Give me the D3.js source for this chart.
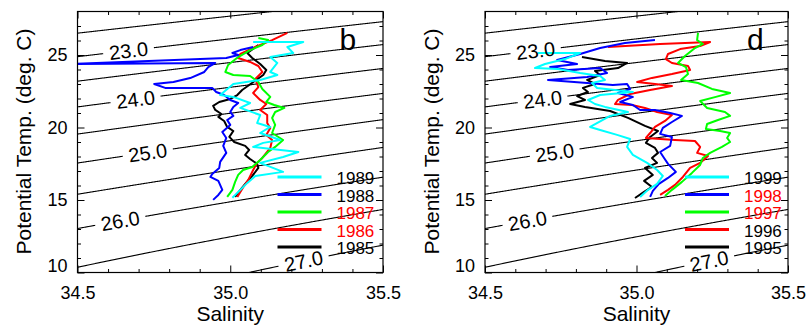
<!DOCTYPE html>
<html><head><meta charset="utf-8">
<script src="https://cdn.jsdelivr.net/npm/d3@7"></script>
<style>body{margin:0;background:#fff}svg{display:block}text{font-family:"Liberation Sans",Arial,Helvetica,sans-serif}</style>
</head><body><svg id="c" width="811" height="326"></svg>
<script>
// ---- axes / contour data ----
const salinityTicks = [34.5, 35.0, 35.5];
const salinityMinor = [34.6, 34.7, 34.8, 34.9, 35.1, 35.2, 35.3, 35.4];
const tempTicks = [10, 15, 20, 25];
const tempMinor = [11, 12, 13, 14, 16, 17, 18, 19, 21, 22, 23, 24, 26, 27];
const sigmaLevels = [22.0, 22.5, 23.0, 23.5, 24.0, 24.5, 25.0, 25.5, 26.0, 26.5, 27.0, 27.5];
const labeledLevels = [23.0, 24.0, 25.0, 26.0, 27.0];
const labelSalinity = [34.667, 34.69, 34.73, 34.64, 35.24];

// ---- panel b (1985-1989): [salinity, potential temperature] ----
const y1985 = [[35.092,25.69],[35.056,25.14],[35.072,24.79],[35.098,24.38],[35.118,23.97],[35.108,23.62],[35.085,23.28],[35.062,22.93],[35.039,22.59],[35.023,22.24],[35.000,21.97],[34.964,21.76],[34.944,21.49],[34.951,21.21],[34.971,20.93],[34.961,20.73],[34.980,20.45],[34.990,20.04],[35.010,19.76],[34.997,19.35],[35.013,19.00],[35.049,18.73],[35.062,18.45],[35.049,18.11],[35.065,17.83],[35.088,17.49],[35.092,17.21],[35.072,16.66],[35.049,16.11],[35.033,15.70],[35.016,15.21]];
const y1986 = [[35.187,26.52],[35.137,26.03],[35.082,25.55],[35.033,25.07],[35.026,24.79],[35.065,24.52],[35.092,24.24],[35.105,23.83],[35.082,23.35],[35.092,22.79],[35.075,22.38],[35.098,21.90],[35.118,21.62],[35.098,21.21],[35.121,20.86],[35.121,20.31],[35.131,19.97],[35.118,19.49],[35.137,19.14],[35.131,18.59],[35.118,18.25],[35.105,17.90],[35.088,17.56],[35.075,17.07],[35.059,16.39],[35.043,15.90],[35.023,15.21]];
const y1987 = [[35.092,26.17],[35.124,26.03],[35.105,25.69],[35.065,25.34],[35.026,24.86],[34.993,24.31],[34.984,23.83],[35.010,23.62],[35.065,23.55],[35.092,23.14],[35.105,22.66],[35.131,22.11],[35.118,21.76],[35.144,21.55],[35.177,21.35],[35.147,21.07],[35.137,20.66],[35.147,20.18],[35.137,19.62],[35.173,19.14],[35.147,18.66],[35.124,18.31],[35.098,17.76],[35.072,17.28],[35.042,17.07],[35.026,16.73],[35.016,16.25],[35.007,15.70],[34.990,15.21]];
const y1988 = [[35.075,25.55],[35.033,25.34],[35.007,25.14],[35.026,25.00],[34.987,24.79],[34.483,24.38],[34.951,24.45],[34.928,24.17],[34.915,23.83],[34.869,23.41],[34.814,23.14],[34.751,23.00],[34.787,22.73],[34.941,22.73],[34.954,22.45],[34.980,22.24],[35.000,21.90],[35.026,21.69],[35.010,21.42],[35.000,21.07],[35.010,20.80],[34.990,20.52],[35.000,20.18],[34.974,19.69],[34.987,19.28],[34.977,18.73],[34.987,18.25],[34.967,17.63],[34.964,17.21],[34.941,16.80],[34.935,16.59],[34.961,16.32],[34.974,15.70],[34.961,15.35],[34.944,15.01]];
const y1989 = [[35.075,25.90],[35.239,25.90],[35.187,25.55],[35.206,25.14],[35.131,24.86],[35.154,24.45],[35.131,23.83],[35.154,23.62],[35.098,23.28],[35.010,23.00],[34.967,22.24],[35.010,22.11],[35.065,21.69],[35.033,21.35],[35.098,20.86],[35.088,20.31],[35.131,20.04],[35.098,19.62],[35.164,19.14],[35.108,18.94],[35.075,18.66],[35.223,18.31],[35.173,17.97],[35.098,17.56],[35.173,16.94],[35.082,16.66],[35.056,16.18],[35.033,15.70],[35.007,15.15]];

// ---- panel d (1995-1999) ----
const y1995 = [[34.820,24.86],[34.896,24.59],[34.969,24.45],[34.939,24.10],[34.863,23.90],[34.880,23.62],[34.837,23.28],[34.863,23.00],[34.823,22.73],[34.840,22.45],[34.804,22.17],[34.830,21.90],[34.781,21.62],[34.830,21.42],[34.913,21.14],[34.972,20.66],[35.028,20.11],[35.071,19.76],[35.045,19.35],[35.031,18.94],[35.061,18.59],[35.071,18.25],[35.051,17.90],[35.068,17.56],[35.028,17.21],[35.054,16.73],[35.025,16.32],[35.051,15.90],[35.025,15.56],[34.995,15.14]];
const y1996 = [[34.906,25.55],[35.078,25.76],[35.243,25.90],[35.210,25.62],[35.144,25.41],[35.104,25.07],[35.097,24.72],[35.117,24.45],[35.170,24.24],[35.177,23.97],[35.117,23.69],[35.051,23.42],[35.002,23.14],[35.061,23.00],[35.117,22.86],[35.045,22.59],[34.979,22.31],[34.939,21.90],[34.929,21.62],[34.985,21.55],[35.028,21.35],[35.068,21.07],[35.117,20.86],[35.094,20.45],[35.061,20.04],[35.045,19.62],[35.031,19.28],[35.127,19.14],[35.193,19.07],[35.210,18.66],[35.200,18.25],[35.236,18.04],[35.210,17.56],[35.177,17.21],[35.153,16.59],[35.127,16.04],[35.104,15.70],[35.078,15.35]];
const y1997 = [[35.203,26.52],[35.200,26.03],[35.219,25.76],[35.193,25.48],[35.160,24.93],[35.137,24.45],[35.163,24.17],[35.170,23.69],[35.147,23.28],[35.203,23.07],[35.249,22.66],[35.309,22.38],[35.262,22.11],[35.210,21.83],[35.233,21.35],[35.292,21.07],[35.309,20.80],[35.269,20.52],[35.233,20.24],[35.229,19.90],[35.276,19.76],[35.309,19.62],[35.299,19.28],[35.309,19.00],[35.282,18.66],[35.243,18.25],[35.219,17.90],[35.210,17.42],[35.183,16.87],[35.150,16.25],[35.117,15.70],[35.094,15.28]];
const y1998 = [[35.061,26.03],[34.962,25.83],[34.880,25.48],[34.814,25.07],[34.738,24.66],[34.804,24.38],[34.715,24.17],[34.774,23.97],[34.880,24.10],[34.903,23.76],[34.837,23.48],[34.708,23.28],[34.837,23.07],[34.922,22.93],[34.969,23.00],[34.979,22.66],[34.939,22.38],[34.988,22.11],[34.946,21.76],[34.988,21.55],[35.012,21.21],[35.061,21.21],[35.111,21.00],[35.150,20.80],[35.117,20.38],[35.087,19.97],[35.078,19.56],[35.117,19.35],[35.111,18.73],[35.078,18.31],[35.091,17.90],[35.104,17.49],[35.130,16.94],[35.104,16.52],[35.074,16.11],[35.054,15.63],[35.045,15.21]];
const y1999 = [[34.675,25.14],[34.814,25.14],[34.764,24.72],[34.698,24.38],[34.665,24.10],[34.741,24.04],[34.814,23.76],[34.880,23.55],[34.896,23.28],[34.853,23.07],[34.870,22.73],[34.988,22.45],[34.880,22.24],[34.840,21.90],[34.863,21.62],[34.896,21.42],[34.972,21.07],[34.913,20.80],[34.847,20.04],[34.880,19.83],[34.936,19.49],[34.979,19.21],[34.969,18.66],[34.988,18.11],[35.035,17.56],[35.068,17.07],[35.087,16.66],[35.068,16.11],[35.038,15.70],[35.012,15.21]];

// legend order (top to bottom)
const legendYearsB = ["1989", "1988", "1987", "1986", "1985"];
const legendYearsD = ["1999", "1998", "1997", "1996", "1995"];
const lineColors = ["#00ffff", "#0000ff", "#00ff00", "#ff0000", "#000000"];
const textColorsB = ["#000000", "#000000", "#ff0000", "#ff0000", "#000000"];
const textColorsD = ["#000000", "#ff0000", "#ff0000", "#000000", "#000000"];
const seriesB = [y1989, y1988, y1987, y1986, y1985];
const seriesD = [y1999, y1998, y1997, y1996, y1995];

// UNESCO EOS-80 one-atmosphere density anomaly
function sigma0(S, T) {
  const rw = 999.842594 + 6.793952e-2*T - 9.095290e-3*T*T + 1.001685e-4*T**3 - 1.120083e-6*T**4 + 6.536332e-9*T**5;
  const A = 8.24493e-1 - 4.0899e-3*T + 7.6438e-5*T*T - 8.2467e-7*T**3 + 5.3875e-9*T**4;
  const B = -5.72466e-3 + 1.0227e-4*T - 1.6546e-6*T*T;
  const C = 4.8314e-4;
  return rw + A*S + B*Math.pow(S, 1.5) + C*S*S - 1000;
}
function tempAt(S, sig) {
  let lo = 4, hi = 40;
  for (let i = 0; i < 60; i++) {
    const m = (lo + hi) / 2;
    if (sigma0(S, m) > sig) lo = m; else hi = m;
  }
  return (lo + hi) / 2;
}

const svg = d3.select("#c");
svg.append("rect").attr("width", 811).attr("height", 326).attr("fill", "#fff");

function panel(id, x0, w, series, years, tColors, letter) {
  const top = 11.5, bot = 272.5;
  const x = d3.scaleLinear().domain([34.5, 35.5]).range([x0, x0 + w]);
  const y = d3.scaleLinear().domain([10, 28]).range([bot, top]);
  const g = svg.append("g");
  svg.append("clipPath").attr("id", "clip" + id).append("rect")
    .attr("x", x0).attr("y", top).attr("width", w).attr("height", bot - top);
  const inner = g.append("g").attr("clip-path", `url(#clip${id})`);

  // isopycnals
  const line = d3.line().x(d => d[0]).y(d => d[1]);
  sigmaLevels.forEach(sig => {
    const pts = d3.range(34.40, 35.601, 0.002).map(S => [x(S), y(tempAt(S, sig))]);
    const li = labeledLevels.indexOf(sig);
    let segs = [pts];
    if (li >= 0) {
      const Sl = labelSalinity[li];
      const xc = x(Sl), yc = y(tempAt(Sl, sig));
      const x2 = x(Sl + 0.01), y2 = y(tempAt(Sl + 0.01, sig));
      const ang = Math.atan2(y2 - yc, x2 - xc);
      const c = Math.cos(ang), s = Math.sin(ang);
      const half = 25;
      segs = [pts.filter(p => (p[0]-xc)*c + (p[1]-yc)*s < -half),
              pts.filter(p => (p[0]-xc)*c + (p[1]-yc)*s > half)];
      g.append("text").attr("x", xc).attr("y", yc).attr("dy", "0.36em")
        .attr("text-anchor", "middle").attr("font-size", 20).attr("fill", "#000")
        .attr("transform", `rotate(${ang*180/Math.PI},${xc},${yc})`)
        .text(sig.toFixed(1));
    }
    segs.forEach(sg => inner.append("path").attr("d", line(sg))
      .attr("fill", "none").attr("stroke", "#000").attr("stroke-width", 1.1));
  });

  // profiles (draw black first, cyan last)
  for (let i = series.length - 1; i >= 0; i--) {
    inner.append("path")
      .attr("d", d3.line().x(d => x(d[0])).y(d => y(d[1]))(series[i]))
      .attr("fill", "none").attr("stroke", lineColors[i]).attr("stroke-width", 2)
      .attr("stroke-linejoin", "round");
  }

  // legend
  years.forEach((yr, i) => {
    const ly = 177 + i * 17.5;
    g.append("line").attr("x1", x0 + 200).attr("x2", x0 + 244).attr("y1", ly).attr("y2", ly)
      .attr("stroke", lineColors[i]).attr("stroke-width", 3);
    g.append("text").attr("x", x0 + 259).attr("y", ly + 7).attr("font-size", 17)
      .attr("fill", tColors[i]).text(yr);
  });

  // frame
  g.append("rect").attr("x", x0).attr("y", top).attr("width", w).attr("height", bot - top)
    .attr("fill", "none").attr("stroke", "#000").attr("stroke-width", 1.2);

  // ticks
  const mk = (ax, tr) => {
    const a = g.append("g").attr("transform", tr).call(ax);
    a.select(".domain").remove();
    a.selectAll("line").attr("stroke", "#000");
    a.selectAll("text").attr("font-size", 18).attr("font-family", '"Liberation Sans",Arial,Helvetica,sans-serif').attr("fill", "#000");
    return a;
  };
  mk(d3.axisBottom(x).tickValues(salinityTicks).tickSize(-7).tickPadding(14).tickFormat(d3.format(".1f")), `translate(0,${bot})`);
  mk(d3.axisBottom(x).tickValues(salinityMinor).tickSize(-3.5).tickFormat(""), `translate(0,${bot})`);
  mk(d3.axisTop(x).tickValues(salinityTicks).tickSize(-7).tickFormat(""), `translate(0,${top})`);
  mk(d3.axisTop(x).tickValues(salinityMinor).tickSize(-3.5).tickFormat(""), `translate(0,${top})`);
  const la = mk(d3.axisLeft(y).tickValues(tempTicks).tickSize(-7).tickPadding(10).tickFormat(d3.format("d")), `translate(${x0},0)`);
  la.selectAll("text").filter(d => d === 10).attr("dy", "-0.05em");
  mk(d3.axisLeft(y).tickValues(tempMinor).tickSize(-3.5).tickFormat(""), `translate(${x0},0)`);
  mk(d3.axisRight(y).tickValues(tempTicks).tickSize(-7).tickFormat(""), `translate(${x0 + w},0)`);
  mk(d3.axisRight(y).tickValues(tempMinor).tickSize(-3.5).tickFormat(""), `translate(${x0 + w},0)`);

  // titles
  g.append("text").attr("x", x0 + w / 2).attr("y", 321).attr("text-anchor", "middle")
    .attr("font-size", 21).text("Salinity");
  const tx = x0 - 54, ty = 141.5;
  g.append("text").attr("x", tx).attr("y", ty).attr("dy", "0.36em").attr("text-anchor", "middle")
    .attr("font-size", 21).attr("transform", `rotate(-90,${tx},${ty})`).text("Potential Temp. (deg. C)");
  g.append("text").attr("x", x0 + 262).attr("y", 50).attr("font-size", 30).text(letter);
}

panel("b", 77.5, 305.5, seriesB, legendYearsB, textColorsB, "b");
panel("d", 485, 303, seriesD, legendYearsD, textColorsD, "d");
</script></body></html>
